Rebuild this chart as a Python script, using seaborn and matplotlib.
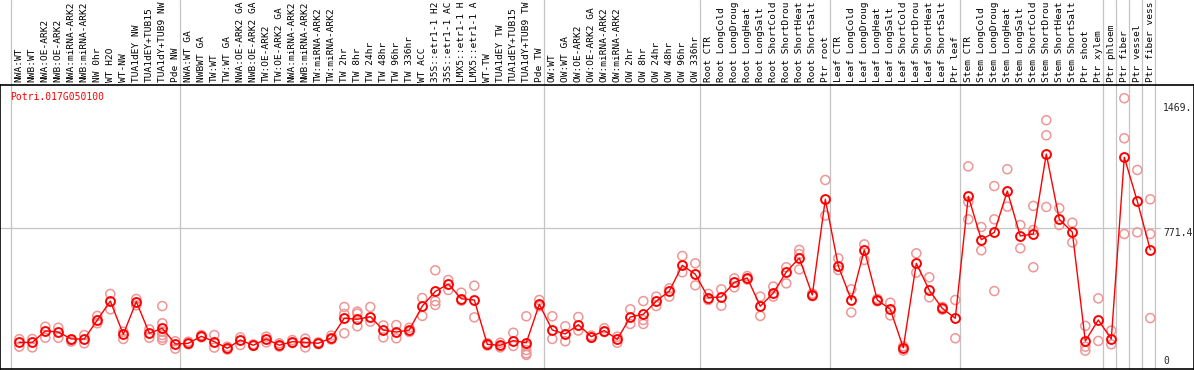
import pandas as pd
import matplotlib
matplotlib.use("Agg")
import matplotlib.pyplot as plt
import matplotlib.transforms as mtransforms
import seaborn as sns

gene = "Potri.017G050100"

# sample names as they show in the header band (cut to 14 characters like the original)
samples = [
    "NWA:WT", "NWB:WT", "NWA:OE-ARK2", "NWB:OE-ARK2", "NWA:miRNA-ARK2", "NWB:miRNA-ARK2",
    "NW 0hr", "WT H2O", "WT-NW", "TUA1dEY NW", "TUA1dEY+TUB15", "TUA1dY+TUB9 NW", "Pde NW",
    "NWA:WT GA", "NWBWT GA", "TW:WT", "TW:WT GA", "NWA:OE-ARK2 GA", "NWB:OE-ARK2 GA",
    "TW:OE-ARK2", "TW:OE-ARK2 GA", "NWA:miRNA-ARK2", "NWB:miRNA-ARK2", "TW:miRNA-ARK2",
    "TW:miRNA-ARK2", "TW 2hr", "TW 8hr", "TW 24hr", "TW 48hr", "TW 96hr", "TW 336hr", "WT ACC",
    "35S::etr1-1 H2", "35S::etr1-1 AC", "LMX5::etr1-1 H", "LMX5::etr1-1 A", "WT-TW",
    "TUA1dEY TW", "TUA1dEY+TUB15", "TUA1dY+TUB9 TW", "Pde TW",
    "OW:WT", "OW:WT GA", "OW:OE-ARK2", "OW:OE-ARK2 GA", "OW:miRNA-ARK2", "OW:miRNA-ARK2",
    "OW 2hr", "OW 8hr", "OW 24hr", "OW 48hr", "OW 96hr", "OW 336hr",
    "Root CTR", "Root LongCold", "Root LongDroug", "Root LongHeat", "Root LongSalt",
    "Root ShortCold", "Root ShortDrou", "Root ShortHeat", "Root ShortSalt", "Ptr root",
    "Leaf CTR", "Leaf LongCold", "Leaf LongDroug", "Leaf LongHeat", "Leaf LongSalt",
    "Leaf ShortCold", "Leaf ShortDrou", "Leaf ShortHeat", "Leaf ShortSalt", "Ptr leaf",
    "Stem CTR", "Stem LongCold", "Stem LongDroug", "Stem LongHeat", "Stem LongSalt",
    "Stem ShortCold", "Stem ShortDrou", "Stem ShortHeat", "Stem ShortSalt", "Ptr shoot",
    "Ptr xylem", "Ptr phloem", "Ptr fiber", "Ptr vessel", "Ptr fiber vess",
]

# mean expression per sample
means = [
    132, 132, 196, 190, 151, 151, 257, 363, 177, 360, 183, 211, 123,
    127, 166, 136, 99, 145, 116, 151, 116, 136, 132, 127, 157, 267, 261, 276, 201, 190, 201,
    335, 417, 458, 376, 369, 121, 116, 142, 130, 345,
    201, 179, 231, 164, 198, 149, 274, 289, 363, 419, 563, 513,
    382, 386, 468, 492, 334, 408, 526, 604, 397, 932,
    559, 369, 649, 369, 317, 102, 574, 423, 322, 267,
    949, 706, 747, 978, 727, 738, 1185, 820, 749, 140, 257,
    151, 1167, 921, 649,
]

# individual replicates per sample
replicates = [
    [150, 108], [151, 104], [220, 158], [214, 158], [145, 136], [173, 127], [280, 239],
    [403, 317], [192, 151], [375, 339], [205, 158], [335, 239, 192, 173, 158, 145], [138, 97],
    [136, 121], [173, 160], [173, 103], [108, 92], [160, 117], [121, 112], [164, 132],
    [127, 108], [145, 128], [153, 104], [132, 122], [170, 148], [330, 291, 183],
    [304, 293, 222], [330, 248], [227, 160], [229, 155], [214, 190], [380, 280],
    [535, 363, 341], [481, 425], [410, 365], [449, 272], [114, 128], [130, 104], [186, 112],
    [278, 112, 89, 71, 62], [369, 334],
    [278, 151], [222, 138], [274, 198], [170, 158], [211, 190], [164, 130], [317, 235],
    [363, 257, 235], [388, 335], [434, 388], [615, 524], [574, 451],
    [403, 369], [429, 337], [490, 440], [503, 483], [388, 280], [444, 388], [552, 462],
    [649, 626, 540], [405, 390], [1040, 841],
    [602, 537], [429, 300], [680, 593], [375, 362], [354, 283], [110, 86], [630, 522],
    [496, 384], [330, 315], [369, 155],
    [1116, 917, 820], [777, 647], [1006, 820, 419], [1100, 891], [788, 658], [895, 760, 552],
    [1374, 1290, 889], [882, 788], [801, 691], [224, 108, 86], [378, 140],
    [198, 121], [1497, 1273, 738], [1096, 747], [932, 738, 268],
]

group_edges = [0, 13, 41, 53, 63, 73, 84, 85, 86, 87, 88]
scale_labels = ["1469.", "771.4", "0"]
scale_values = [1469.0, 771.4, 0.0]

df_mean = pd.DataFrame({"idx": range(len(samples)), "value": means})
df_rep = pd.DataFrame(
    [(i, v) for i, vals in enumerate(replicates) for v in vals], columns=["idx", "value"]
)

sns.set_style("white")
plt.rcParams['font.family'] = ['DejaVu Sans Mono']

W, H = 1194, 370
fig = plt.figure(figsize=(W / 100, H / 100), dpi=100)
ax = fig.add_axes([0, 1.5 / H, 1, 283.5 / H])

# replicates (pale) then mean line on top
sns.scatterplot(data=df_rep, x="idx", y="value", s=42, facecolor="none",
                edgecolor="#F09696", linewidth=1.1, ax=ax, zorder=2)
sns.lineplot(data=df_mean, x="idx", y="value", color="red", linewidth=1.0,
             marker="o", markersize=6.4, markerfacecolor="none",
             markeredgecolor="red", markeredgewidth=1.4, ax=ax, zorder=3)

ax.set_xlim(-19.3 / 13, (W - 19.3) / 13)
ax.set_ylim(-14, 1571)
ax.set_xticks([])
ax.set_yticks([])
ax.set_xlabel("")
ax.set_ylabel("")
for sp in ax.spines.values():
    sp.set_color("black")
    sp.set_linewidth(1.2)

# group separators run through the label band as well
for k in group_edges:
    ax.axvline(k - 0.638, ymin=0, ymax=368.5 / 283.5, color="#c4c4c4",
               lw=0.9, clip_on=False, zorder=1)
ax.axhline(771.4, xmin=0, xmax=1160 / W, color="#c4c4c4", lw=0.9, zorder=1)

tr = mtransforms.blended_transform_factory(ax.transData, ax.transAxes)
for i, lab in enumerate(samples):
    ax.text(i, 1 + 3 / 283.5, lab, transform=tr, rotation=90, ha="center",
            va="bottom", fontsize=6.8, color="black", clip_on=False)

ax.text(10 / W, (368.5 - 97) / 283.5, gene, transform=ax.transAxes, color="red",
        fontsize=7, ha="left", va="center")

tr2 = mtransforms.blended_transform_factory(ax.transAxes, ax.transData)
for lab, v in zip(scale_labels, scale_values):
    ax.text(1163 / W, v, lab, transform=tr2, fontsize=7, ha="left",
            va="bottom" if v == 0 else "top")

fig.savefig("out.png", dpi=100)
